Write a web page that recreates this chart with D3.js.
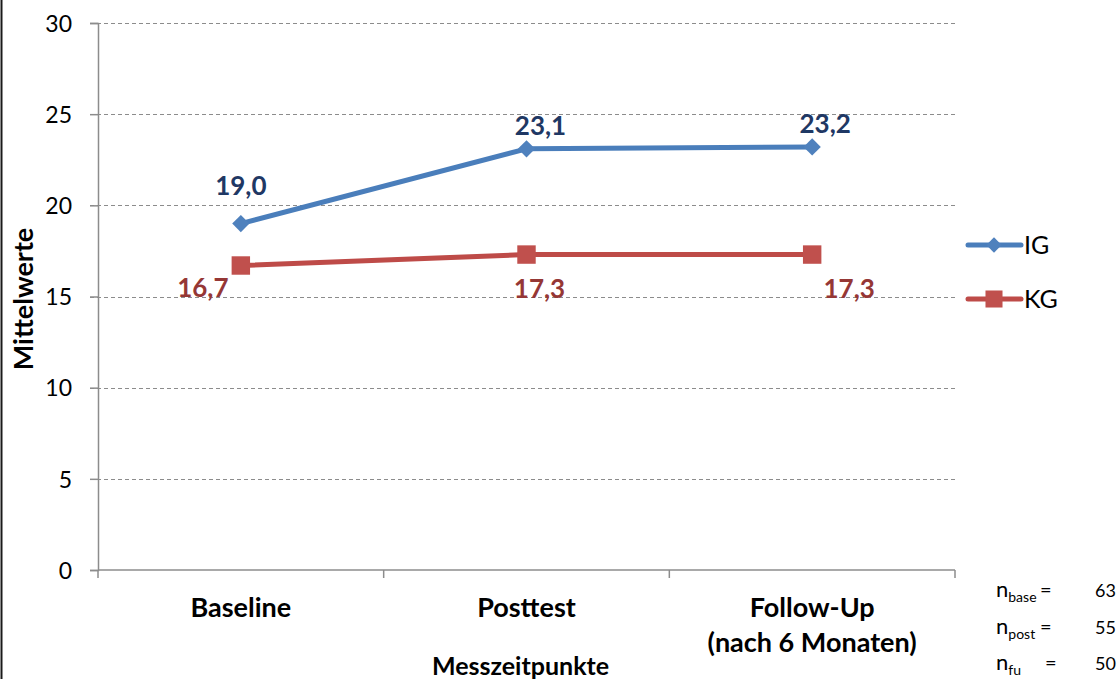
<!DOCTYPE html>
<html>
<head>
<meta charset="utf-8">
<script src="https://cdn.jsdelivr.net/npm/d3@7"></script>
<style>
  html, body { margin: 0; padding: 0; background: #fff; }
  svg { display: block; font-family: Lato, "Open Sans", sans-serif; }
</style>
</head>
<body>
<svg id="chart" width="1119" height="679"></svg>
<script>
// Messzeitpunkte und Mittelwerte je Gruppe
const categories = ["Baseline", "Posttest", "Follow-Up\n(nach 6 Monaten)"];
const seriesNames = ["IG", "KG"];
const igValues = [19.0, 23.1, 23.2];
const kgValues = [16.7, 17.3, 17.3];
const yTicks = [0, 5, 10, 15, 20, 25, 30];
const sampleLabels = ["base", "post", "fu"];
const sampleSizes = [63, 55, 50];

const svg = d3.select("#chart");
const W = 1119, H = 679;
const plot = { left: 98, right: 955, top: 23, bottom: 570 };

const x = d3.scaleBand().domain(categories).range([plot.left, plot.right]).padding(0);
const y = d3.scaleLinear().domain([0, 30]).range([plot.bottom, plot.top]);
const cx = c => x(c) + x.bandwidth() / 2;

const fmt = v => d3.format(".1f")(v).replace(".", ",");

const series = [
  { name: seriesNames[0], values: igValues, line: "#4A7EBB", fill: "#4F81BD", label: "#1F3864", marker: "diamond" },
  { name: seriesNames[1], values: kgValues, line: "#BE4B48", fill: "#C0504D", label: "#953735", marker: "square" }
];

// frame edge on the left
svg.append("line").attr("x1", 1.5).attr("x2", 1.5).attr("y1", 0).attr("y2", H)
  .attr("stroke", "#1a1a1a").attr("stroke-width", 2);

// horizontal dashed gridlines
svg.append("g").selectAll("line").data(yTicks.filter(t => t > 0)).join("line")
  .attr("x1", plot.left - 8).attr("x2", plot.right)
  .attr("y1", d => Math.round(y(d)) + 0.5).attr("y2", d => Math.round(y(d)) + 0.5)
  .attr("stroke", "#8c8c8c").attr("stroke-width", 1.2).attr("stroke-dasharray", "4,3");

// y axis
const yAxis = svg.append("g").attr("transform", `translate(${plot.left},0)`)
  .call(d3.axisLeft(y).tickValues(yTicks).tickSize(8).tickPadding(18).tickFormat(d3.format("d")));
yAxis.select(".domain").attr("stroke", "#8c8c8c").attr("stroke-width", 1.5);
yAxis.selectAll(".tick line").attr("stroke", "#8c8c8c").attr("stroke-width", 1.5);
yAxis.selectAll(".tick text").attr("font-size", 23).attr("fill", "#000")
  .attr("font-family", "Lato, sans-serif").attr("dy", "0.36em");

// x axis with ticks at the band edges
const xAxisG = svg.append("g").attr("transform", `translate(0,${plot.bottom})`);
xAxisG.append("line").attr("x1", plot.left).attr("x2", plot.right).attr("y1", 0).attr("y2", 0)
  .attr("stroke", "#8c8c8c").attr("stroke-width", 1.5);
const edges = categories.map(c => x(c)).concat([plot.right]);
xAxisG.selectAll("line.edge").data(edges).join("line").attr("class", "edge")
  .attr("x1", d => d).attr("x2", d => d).attr("y1", 0).attr("y2", 8)
  .attr("stroke", "#8c8c8c").attr("stroke-width", 1.5);
const catText = xAxisG.selectAll("text.cat").data(categories).join("text").attr("class", "cat")
  .attr("x", d => cx(d)).attr("y", 47)
  .attr("text-anchor", "middle").attr("font-size", 27).attr("font-weight", "bold").attr("fill", "#000");
catText.each(function(d) {
  const parts = d.split("\n");
  d3.select(this).selectAll("tspan").data(parts).join("tspan")
    .attr("x", cx(d)).attr("dy", (p, i) => i === 0 ? 0 : 35).text(p => p);
});

// axis titles
svg.append("text").attr("x", cx(categories[1]) - 6).attr("y", 675)
  .attr("text-anchor", "middle").attr("font-size", 25).attr("font-weight", "bold").text("Messzeitpunkte");
svg.append("text").attr("transform", `translate(33,${299}) rotate(-90)`)
  .attr("text-anchor", "middle").attr("font-size", 27).attr("font-weight", "bold").text("Mittelwerte");

// lines and markers
const lineGen = d3.line().x((d, i) => cx(categories[i])).y(d => y(d));
const diamond = d3.symbol().type(d3.symbolDiamond2).size(190);
const square = d3.symbol().type(d3.symbolSquare).size(340);

series.forEach(s => {
  svg.append("path").datum(s.values).attr("d", lineGen)
    .attr("fill", "none").attr("stroke", s.line).attr("stroke-width", 5).attr("stroke-linejoin", "round");
  svg.append("g").selectAll("path").data(s.values).join("path")
    .attr("transform", (d, i) => `translate(${cx(categories[i])},${y(d)})`)
    .attr("d", s.marker === "diamond" ? diamond : square)
    .attr("fill", s.fill);
});

// value labels, each nudged off its point
const igLabelDx = [0, 14, 13];
const igLabelDy = [-29, -14, -14];
const kgLabelDx = [-38, 13, 37];
const kgLabelDy = [31, 43, 43];
svg.append("g").selectAll("text").data(igValues).join("text")
  .attr("x", (d, i) => cx(categories[i]) + igLabelDx[i]).attr("y", (d, i) => y(d) + igLabelDy[i])
  .attr("text-anchor", "middle").attr("font-size", 26).attr("font-weight", "bold")
  .attr("fill", series[0].label).text(fmt);
svg.append("g").selectAll("text").data(kgValues).join("text")
  .attr("x", (d, i) => cx(categories[i]) + kgLabelDx[i]).attr("y", (d, i) => y(d) + kgLabelDy[i])
  .attr("text-anchor", "middle").attr("font-size", 26).attr("font-weight", "bold")
  .attr("fill", series[1].label).text(fmt);

// legend
const legend = svg.append("g");
series.forEach((s, i) => {
  const ly = 245 + i * 54;
  legend.append("line").attr("x1", 968).attr("x2", 1021).attr("y1", ly).attr("y2", ly)
    .attr("stroke", s.line).attr("stroke-width", 5).attr("stroke-linecap", "round");
  legend.append("path").attr("transform", `translate(994,${ly})`)
    .attr("d", s.marker === "diamond" ? d3.symbol().type(d3.symbolDiamond2).size(150) : d3.symbol().type(d3.symbolSquare).size(290))
    .attr("fill", s.fill);
  legend.append("text").attr("x", 1024).attr("y", ly + 9).attr("font-size", 25).attr("fill", "#000").text(s.name);
});

// sample sizes
const nG = svg.append("g").attr("font-size", 18).attr("fill", "#000");
sampleLabels.forEach((lab, i) => {
  const by = 597 + i * 36.5;
  const t = nG.append("text").attr("x", 996).attr("y", by);
  t.append("tspan").attr("font-size", 22).text("n");
  t.append("tspan").attr("font-size", 14).attr("dy", 5).text(lab);
  nG.append("text").attr("x", i === 2 ? 1045 : 1040).attr("y", by).attr("font-size", 20).text("=");
  nG.append("text").attr("x", 1116).attr("y", by).attr("text-anchor", "end").text(sampleSizes[i]);
});
</script>
</body>
</html>
